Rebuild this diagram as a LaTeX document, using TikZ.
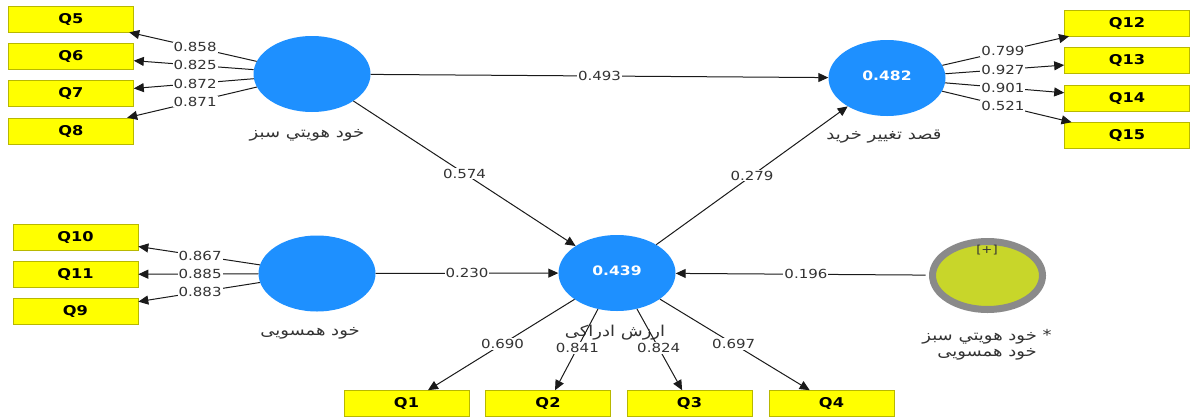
\documentclass[tikz,border=0pt]{standalone}
\usepackage{fontspec}
\TeXXeTstate=1
\setmainfont{DejaVu Sans}[FakeStretch=1.2]
\newfontfamily\arabicfont[Script=Arabic,FakeStretch=1.2]{DejaVu Sans}
\usetikzlibrary{shapes.geometric,arrows.meta,calc}
\definecolor{plsblue}{HTML}{1E90FF}
\definecolor{indyellow}{HTML}{FFFF00}
\definecolor{indborder}{HTML}{B8B800}
\definecolor{linecol}{HTML}{1A1A1A}
\definecolor{labcol}{HTML}{333333}
\definecolor{modyellow}{HTML}{C8D62A}
\definecolor{modgray}{HTML}{8A8A8A}
\begin{document}
\begin{tikzpicture}[x=1pt,y=-1pt,
  lv/.style={ellipse, fill=plsblue, minimum width=117pt, minimum height=76pt, inner sep=0pt, text=white, font=\fontsize{13}{15}\selectfont\bfseries},
  ind/.style={rectangle, fill=indyellow, draw=indborder, line width=0.6pt, minimum width=125pt, minimum height=26pt, inner sep=0pt, font=\fontsize{13.5}{15}\selectfont\bfseries},
  arr/.style={draw=linecol, line width=1pt, -{Triangle[length=10pt,width=9pt]}},
  lbl/.style={fill=white, inner sep=1pt, text=labcol, font=\fontsize{12.5}{14}\selectfont},
  lvname/.style={text=labcol, font=\arabicfont\fontsize{15}{16}\selectfont, inner sep=0pt},
]
\path[use as bounding box, fill=white] (0,0) rectangle (1190,418);

% latent variables
\node[lv] (sabz) at (312,74) {};
\node[lv] (kharid) at (887,78) {\raisebox{4pt}{0.482}};
\node[lv] (hams) at (317,273.5) {};
\node[lv] (arzesh) at (617,273) {\raisebox{4pt}{0.439}};
\node[ellipse, fill=modyellow, draw=modgray, line width=7pt, minimum width=110pt, minimum height=68pt, inner sep=0pt] (mod) at (987.5,275.5) {};
\node[font=\fontsize{11}{12}\selectfont, text=labcol, inner sep=0pt] (modtag) at (987,250) {[+]};

% names
\node[lvname] (nsabz) at (307,135) {\beginR خود هويتي سبز\endR};
\node[lvname] (nkharid) at (884,137) {\beginR قصد تغییر خرید\endR};
\node[lvname] (nhams) at (310,333) {\beginR خود همسویی\endR};
\node[lvname] (narzesh) at (615,333) {\beginR ارزش ادراکی\endR};
\node[lvname, align=center] (nmod) at (987,345) {\beginR خود هويتي سبز\endR{} *\\\beginR خود همسویی\endR};

% indicators
\node[ind] (q5) at (71,19) {Q5};
\node[ind] (q6) at (71,56) {Q6};
\node[ind] (q7) at (71,93.5) {Q7};
\node[ind] (q8) at (71,131) {Q8};
\node[ind] (q12) at (1127,23) {Q12};
\node[ind] (q13) at (1127,60.5) {Q13};
\node[ind] (q14) at (1127,98) {Q14};
\node[ind] (q15) at (1127,135.5) {Q15};
\node[ind] (q10) at (75.5,237) {Q10};
\node[ind] (q11) at (75.5,274.5) {Q11};
\node[ind] (q9) at (75.5,311.5) {Q9};
\node[ind] (q1) at (406.5,403.5) {Q1};
\node[ind] (q2) at (548,403.5) {Q2};
\node[ind] (q3) at (689.5,403.5) {Q3};
\node[ind] (q4) at (831.5,403.5) {Q4};

% outer loadings
\draw[arr] (sabz) -- (q5) node[lbl] at ($(sabz)!0.485!(q5)$) {0.858};
\draw[arr] (sabz) -- (q6) node[lbl] at ($(sabz)!0.485!(q6)$) {0.825};
\draw[arr] (sabz) -- (q7) node[lbl] at ($(sabz)!0.485!(q7)$) {0.872};
\draw[arr] (sabz) -- (q8) node[lbl] at ($(sabz)!0.485!(q8)$) {0.871};
\draw[arr] (kharid) -- (q12) node[lbl] at ($(kharid)!0.483!(q12)$) {0.799};
\draw[arr] (kharid) -- (q13) node[lbl] at ($(kharid)!0.483!(q13)$) {0.927};
\draw[arr] (kharid) -- (q14) node[lbl] at ($(kharid)!0.483!(q14)$) {0.901};
\draw[arr] (kharid) -- (q15) node[lbl] at ($(kharid)!0.483!(q15)$) {0.521};
\draw[arr] (hams) -- (q10) node[lbl] at ($(hams)!0.484!(q10)$) {0.867};
\draw[arr] (hams) -- (q11) node[lbl] at ($(hams)!0.484!(q11)$) {0.885};
\draw[arr] (hams) -- (q9) node[lbl] at ($(hams)!0.484!(q9)$) {0.883};
\draw[arr] (arzesh) -- (q1) node[lbl] at ($(arzesh)!0.544!(q1)$) {0.690};
\draw[arr] (arzesh) -- (q2) node[lbl] at ($(arzesh)!0.575!(q2)$) {0.841};
\draw[arr] (arzesh) -- (q3) node[lbl] at ($(arzesh)!0.575!(q3)$) {0.824};
\draw[arr] (arzesh) -- (q4) node[lbl] at ($(arzesh)!0.544!(q4)$) {0.697};

% structural paths
\draw[arr] (sabz) -- (kharid) node[lbl] at ($(sabz)!0.5!(kharid)$) {0.493};
\draw[arr] (sabz) -- (arzesh) node[lbl] at ($(sabz)!0.5!(arzesh)$) {0.574};
\draw[arr] (arzesh) -- (kharid) node[lbl] at ($(arzesh)!0.5!(kharid)$) {0.279};
\draw[arr] (hams) -- (arzesh) node[lbl] at ($(hams)!0.5!(arzesh)$) {0.230};
\draw[arr, shorten <=3.5pt] (mod) -- (arzesh) node[lbl] at ($(mod)!0.49!(arzesh)$) {0.196};
\end{tikzpicture}
\end{document}
